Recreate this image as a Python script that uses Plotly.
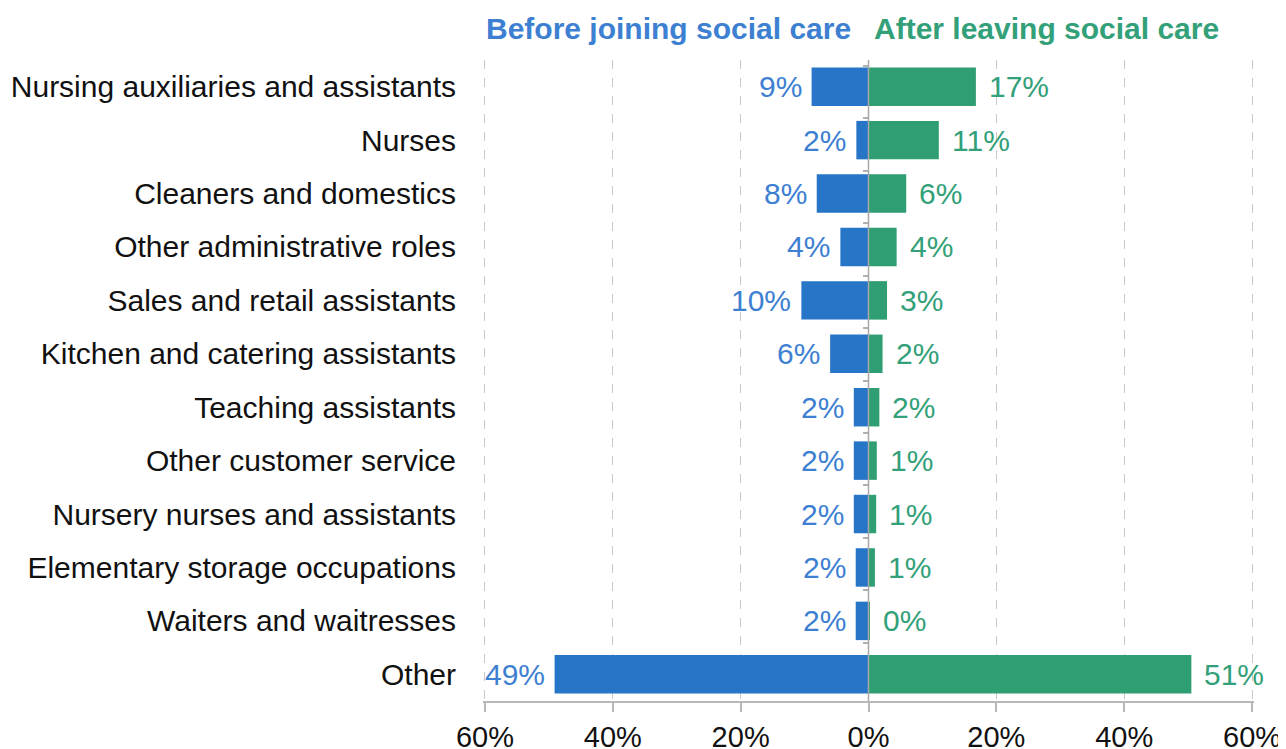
import plotly.graph_objects as go

categories = [
    "Nursing auxiliaries and assistants",
    "Nurses",
    "Cleaners and domestics",
    "Other administrative roles",
    "Sales and retail assistants",
    "Kitchen and catering assistants",
    "Teaching assistants",
    "Other customer service",
    "Nursery nurses and assistants",
    "Elementary storage occupations",
    "Waiters and waitresses",
    "Other",
]
before_vals = [8.9, 1.9, 8.1, 4.4, 10.5, 6.0, 2.3, 2.3, 2.3, 2.0, 2.0, 49.1]
after_vals = [16.8, 11.0, 5.9, 4.4, 2.9, 2.2, 1.7, 1.3, 1.2, 1.0, 0.2, 50.5]
before_labels = ["9%", "2%", "8%", "4%", "10%", "6%", "2%", "2%", "2%", "2%", "2%", "49%"]
after_labels = ["17%", "11%", "6%", "4%", "3%", "2%", "2%", "1%", "1%", "1%", "0%", "51%"]
tick_vals = [-60, -40, -20, 0, 20, 40, 60]
tick_text = ["60%", "40%", "20%", "0%", "20%", "40%", "60%"]

BLUE = "#2775c7"
GREEN = "#2f9e72"
BLUE_T = "#3d80d2"
GREEN_T = "#32a078"
FONT = "Liberation Sans, Arial, sans-serif"

fig = go.Figure()
fig.add_trace(go.Bar(
    y=categories, x=[-v for v in before_vals], orientation="h",
    marker=dict(color=BLUE, line=dict(width=0)), name="Before joining social care",
    hoverinfo="skip",
))
fig.add_trace(go.Bar(
    y=categories, x=after_vals, orientation="h",
    marker=dict(color=GREEN, line=dict(width=0)), name="After leaving social care",
    hoverinfo="skip",
))
# invisible carrier trace so the centre category axis (boundary ticks) is drawn
fig.add_trace(go.Scatter(
    y=categories, x=[0] * len(categories), mode="none", yaxis="y2",
    hoverinfo="skip", showlegend=False,
))

annotations = []
for c, v, t in zip(categories, before_vals, before_labels):
    annotations.append(dict(x=-v, y=c, xref="x", yref="y", text=t, showarrow=False,
                            xanchor="right", xshift=-8,
                            font=dict(family=FONT, size=30, color=BLUE_T)))
for c, v, t in zip(categories, after_vals, after_labels):
    annotations.append(dict(x=v, y=c, xref="x", yref="y", text=t, showarrow=False,
                            xanchor="left", xshift=11,
                            font=dict(family=FONT, size=30, color=GREEN_T)))
annotations.append(dict(x=0, y=1.0, xref="x", yref="paper", yanchor="middle", yshift=32,
                        text="<b>Before joining social care</b>", showarrow=False,
                        xanchor="right", xshift=-16,
                        font=dict(family=FONT, size=30, color=BLUE_T)))
annotations.append(dict(x=0, y=1.0, xref="x", yref="paper", yanchor="middle", yshift=32,
                        text="<b>After leaving social care</b>", showarrow=False,
                        xanchor="left", xshift=3,
                        font=dict(family=FONT, size=30, color=GREEN_T)))

fig.update_layout(
    width=1278, height=741,
    margin=dict(l=475, r=32, t=52, b=48),
    paper_bgcolor="white", plot_bgcolor="white",
    barmode="relative", bargap=0.28,
    showlegend=False,
    font=dict(family=FONT, size=26, color="#111111"),
    annotations=annotations,
    shapes=[dict(type="line", xref="x", yref="paper", x0=0, x1=0, y0=0, y1=1,
                 line=dict(color="#a8a8a8", width=1.5), layer="above")],
    xaxis=dict(
        range=[-60.3, 60.3], tickvals=tick_vals, ticktext=tick_text,
        automargin=False,
        showgrid=True, gridcolor="#c8c8c8", griddash="dash", gridwidth=1.2,
        zeroline=False, showline=True, linecolor="#b8b8b8", linewidth=1.5,
        ticks="outside", ticklen=9, tickcolor="#b8b8b8", tickwidth=1.5,
        tickfont=dict(family=FONT, size=29, color="#111111"),
    ),
    yaxis=dict(
        autorange="reversed", showgrid=False, zeroline=False, showline=False,
        automargin=False,
        ticks="", ticklabelstandoff=26,
        categoryorder="array", categoryarray=categories,
        tickfont=dict(family=FONT, size=30, color="#111111"),
    ),
    yaxis2=dict(
        overlaying="y", anchor="free", position=0.5, side="left",
        autorange="reversed", type="category", automargin=False,
        categoryorder="array", categoryarray=categories,
        showgrid=False, zeroline=False, showline=False,
        showticklabels=False, ticks="outside", tickson="boundaries",
        ticklen=6, tickcolor="#b0b0b0", tickwidth=1.5,
    ),
)

fig.write_html("out.html")
